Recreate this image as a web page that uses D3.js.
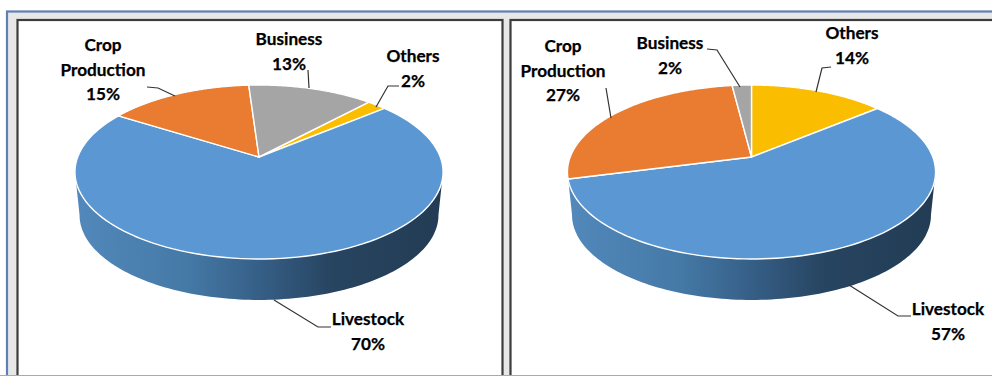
<!DOCTYPE html>
<html>
<head>
<meta charset="utf-8">
<script src="https://cdn.jsdelivr.net/npm/d3@7"></script>
<style>
  html, body { margin: 0; padding: 0; background: #fff; }
  svg { display: block; }
  text { font-family: Lato, "Open Sans", sans-serif; font-weight: 700; font-size: 17.2px; fill: #000; stroke: #000; stroke-width: 0.25px; text-anchor: middle; }
</style>
</head>
<body>
<svg id="chart" width="992" height="376"></svg>
<script>
// Share of income by source, one pie per panel
const categories = ["Others", "Livestock", "Crop Production", "Business"];
const leftShares = [2, 70, 15, 13];
const rightShares = [14, 57, 27, 2];
const sliceColors = ["#fbbd00", "#5b98d3", "#e97c30", "#a5a5a5"];

// Where each pie sits and how its captions and leaders are arranged
const panels = [
  {
    shares: leftShares, startDeg: 43, cx: 259,
    captions: [
      { lines: ["Others", "2%"], x: 413, y: 62, leader: [[376, 107], [388, 86], [399, 86]] },
      { lines: ["Livestock", "70%"], x: 368, y: 325, leader: [[274, 300], [318, 327], [331, 327]] },
      { lines: ["Crop", "Production", "15%"], x: 103, y: 51, leader: [[147, 87], [158, 88], [175, 96]] },
      { lines: ["Business", "13%"], x: 289, y: 45, leader: [[308, 70], [309, 88]] }
    ]
  },
  {
    shares: rightShares, startDeg: 0, cx: 751.5,
    captions: [
      { lines: ["Others", "14%"], x: 852, y: 39, leader: [[831, 67], [822, 68], [816, 92]] },
      { lines: ["Livestock", "57%"], x: 948, y: 315, leader: [[849, 285], [898, 316], [911, 316]] },
      { lines: ["Crop", "Production", "27%"], x: 563, y: 52, leader: [[606, 88], [611, 118]] },
      { lines: ["Business", "2%"], x: 670, y: 49, leader: [[707, 49], [717, 50], [740, 87]] }
    ]
  }
];

// Tilted-disc projection: the far rim shrinks, so the hub sits above the ellipse centre
const hubY = 157, radiusX = 181.3, radiusY = 84.4, tilt = 0.1724;
const wallDrop = 43.5, wallShrink = 0.975;

const rimPoint = (cx, angle) => {
  const w = 1 + tilt * Math.cos(angle);
  return [cx + radiusX * Math.sin(angle) / w, hubY - radiusY * Math.cos(angle) / w];
};
const wallPoint = (cx, angle) => {
  const [x, y] = rimPoint(cx, angle);
  return [cx + (x - cx) * wallShrink, hubY + (y - hubY) * wallShrink + wallDrop];
};
const sweep = (a0, a1) => d3.range(0, 121).map(i => a0 + (a1 - a0) * i / 120);

const svg = d3.select("#chart");
const outline = d3.line();

// Window-like surround with two framed panels
svg.append("rect").attr("x", 7).attr("y", 11.5).attr("width", 995).attr("height", 375)
  .attr("fill", "#e7e7e7").attr("stroke", "#5f7fb5").attr("stroke-width", 2.2);
svg.append("rect").attr("x", 17.5).attr("y", 20).attr("width", 485).attr("height", 370)
  .attr("fill", "#fff").attr("stroke", "#3c3c3c").attr("stroke-width", 2.2);
svg.append("rect").attr("x", 510.5).attr("y", 20).attr("width", 495).attr("height", 370)
  .attr("fill", "#fff").attr("stroke", "#3c3c3c").attr("stroke-width", 2.2);
svg.append("line").attr("x1", 0).attr("x2", 992).attr("y1", 375.5).attr("y2", 375.5)
  .attr("stroke", "#aaa").attr("stroke-width", 1);

// Shading along the front wall of the disc
const shade = svg.append("defs").append("linearGradient")
  .attr("id", "wallShade").attr("x1", 0).attr("x2", 1).attr("y1", 0).attr("y2", 0);
[[0, "#5288bb"], [0.3, "#457aa7"], [0.5, "#365f87"], [0.7, "#274460"], [1, "#233c54"]]
  .forEach(([o, c]) => shade.append("stop").attr("offset", o).attr("stop-color", c));

const pieLayout = d3.pie().sort(null).value(d => d);

panels.forEach(panel => {
  const g = svg.append("g");
  const start = panel.startDeg * Math.PI / 180;
  const slices = pieLayout.startAngle(start).endAngle(start + 2 * Math.PI)(panel.shares);

  // Front wall, limited to the part of the rim facing the viewer
  const wallFrom = Math.acos(-tilt), wallTo = 2 * Math.PI - wallFrom;
  const wall = sweep(wallFrom, wallTo).map(a => rimPoint(panel.cx, a))
    .concat(sweep(wallTo, wallFrom).map(a => wallPoint(panel.cx, a)));
  g.append("path").attr("d", outline(wall) + "Z").attr("fill", "url(#wallShade)");

  // Top face
  g.selectAll("path.slice").data(slices).join("path")
    .attr("class", "slice")
    .attr("d", d => outline([[panel.cx, hubY]].concat(
      sweep(d.startAngle, d.endAngle).map(a => rimPoint(panel.cx, a)))) + "Z")
    .attr("fill", (d, i) => sliceColors[i])
    .attr("stroke", "#fff").attr("stroke-width", 1.4).attr("stroke-linejoin", "round");

  // Captions with their leader lines
  panel.captions.forEach(c => {
    g.append("path").attr("d", outline(c.leader))
      .attr("fill", "none").attr("stroke", "#333").attr("stroke-width", 1.2);
    const label = g.append("text").attr("x", c.x).attr("y", c.y);
    label.selectAll("tspan").data(c.lines).join("tspan")
      .attr("x", c.x).attr("dy", (d, i) => i ? 24.5 : 0).text(d => d);
  });
});
</script>
</body>
</html>
